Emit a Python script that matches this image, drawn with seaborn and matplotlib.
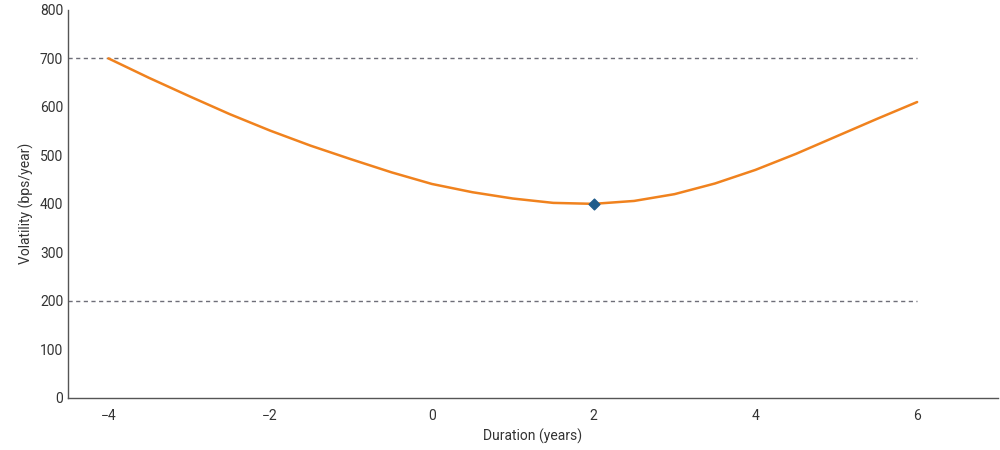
import numpy as np
import pandas as pd
import matplotlib
matplotlib.use('Agg')
import matplotlib.pyplot as plt
import seaborn as sns

# values
duration = [-4, -3.5, -3, -2.5, -2, -1.5, -1, -0.5, 0, 0.5, 1, 1.5, 2,
            2.5, 3, 3.5, 4, 4.5, 5, 5.5, 6]
volatility = [700, 660, 622, 585, 551, 520, 492, 465, 441, 424, 411, 402, 400,
              406, 420, 442, 470, 503, 539, 575, 610]
min_point = (2, 400)
bands = [200, 700]

df = pd.DataFrame({'Duration': duration, 'Vol': volatility})

sns.set_style('white')
plt.rcParams['font.family'] = ['Roboto', 'DejaVu Sans']

fig, ax = plt.subplots(figsize=(10, 4.5), dpi=100)
fig.subplots_adjust(left=0.068, right=0.998, top=0.978, bottom=0.116)

for b in bands:
    ax.plot([-4.5, 6], [b, b], ls='--', color='#6e6e78', lw=1, dashes=(3, 2.5))

sns.lineplot(data=df, x='Duration', y='Vol', color='#f0821e', lw=1.8, ax=ax)
ax.scatter([min_point[0]], [min_point[1]], marker='D', s=30, color='#1f5c8b', zorder=5)

ax.set_xlim(-4.5, 7)
ax.set_ylim(0, 800)
ax.set_xticks([-4, -2, 0, 2, 4, 6])
ax.set_yticks(range(0, 801, 100))
ax.set_xlabel('Duration (years)', fontsize=10, color='#333333')
ax.set_ylabel('Volatility (bps/year)', fontsize=10, color='#333333')
ax.tick_params(axis='both', labelsize=10, colors='#333333', length=0)
ax.tick_params(axis='x', pad=8)
for s in ['top', 'right']:
    ax.spines[s].set_visible(False)
for s in ['left', 'bottom']:
    ax.spines[s].set_color('#555555')
    ax.spines[s].set_linewidth(1)

fig.savefig('out.png')
